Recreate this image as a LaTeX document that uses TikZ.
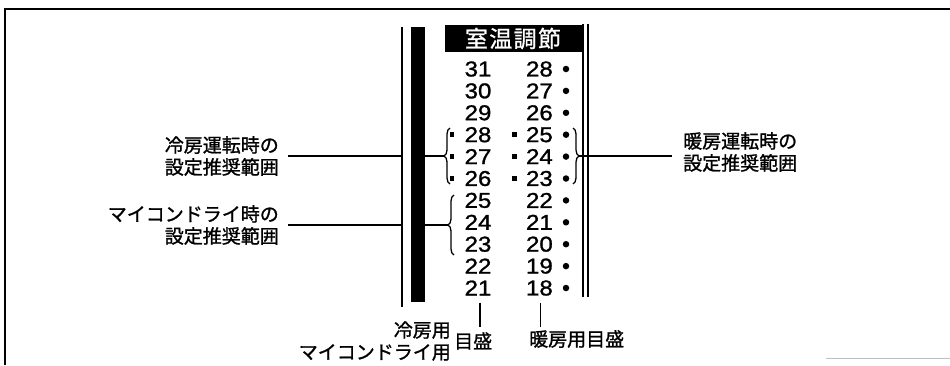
\documentclass[tikz,border=0pt]{standalone}
\usepackage{fontspec}
\setmainfont{Noto Sans CJK JP}
\newfontfamily\numfont[FakeStretch=1.12,FakeBold=1.2]{Liberation Sans}
\usetikzlibrary{positioning,decorations.pathreplacing}

\begin{document}
\begin{tikzpicture}[x=1pt,y=-1pt,
  lbl/.style={font=\fontsize{19}{22}\selectfont\addfontfeature{FakeBold=1.2}, inner sep=0pt},
  num/.style={font=\numfont\fontsize{21.5}{22}\selectfont, inner sep=0pt},
  bigdot/.style={circle, fill=black, inner sep=0pt, minimum size=6.5pt},
  smalldot/.style={rectangle, fill=black, inner sep=0pt, minimum size=4.5pt},
  lead/.style={line width=1.5pt},
  rng/.style={line width=1.3pt, decorate, decoration={brace, amplitude=6pt}}]
\useasboundingbox (0,0) rectangle (950,365);
% frame
\draw[line width=1.6pt] (5,365) -- (5,9) -- (950,9);
\draw[black!25, line width=1pt] (826,358) -- (950,358);

% scale plate
\coordinate (thinT) at (402,27);
\coordinate (thinB) at (402,307);
\draw[line width=1.6pt] (thinT) -- (thinB);
\node[fill=black, inner sep=0pt, minimum width=14pt, minimum height=275pt] (bar) at (418,164.5) {};
\node[fill=black, text=white, inner sep=0pt, minimum width=137pt, minimum height=27pt,
  font=\fontsize{23}{23}\selectfont\addfontfeature{LetterSpace=6,FakeBold=1}] (head) at (513,38.5) {室温調節};
\draw[line width=1.4pt] (583,24) -- (583,297);
\draw[line width=1.4pt] (588,24) -- (588,297);

% numbers
\foreach \c [count=\i from 0] in {31,30,...,21}
  \node[num] (c\c) at (478,{69+21.9*\i}) {\c};
\foreach \h [count=\i from 0] in {28,27,...,18} {
  \node[num, anchor=east] (h\h) at (553,{69+21.9*\i}) {\h};
  \node[bigdot] (d\h) at (566,{69+21.9*\i}) {};
}
\foreach \c/\h in {28/25,27/24,26/23} {
  \node[smalldot, left=10pt of c\c] (sc\c) {};
  \node[smalldot, left=9pt of h\h] (sh\h) {};
}

% braces
\draw[rng] (450,184) -- (450,128);
\draw[rng] (454,255) -- (454,195);
\draw[rng] (573,128) -- (573,184);
\coordinate (ctip) at (444,156);
\coordinate (dtip) at (448,225);
\coordinate (htip) at (579,156);

% labels
\node[lbl, align=right, anchor=east] (cool) at (279,156) {冷房運転時の\\設定推奨範囲};
\node[lbl, align=right, anchor=east] (dry) at (279,225) {マイコンドライ時の\\設定推奨範囲};
\node[lbl, align=left, anchor=west] (heat) at (683,152) {暖房運転時の\\設定推奨範囲};
\draw[lead] ([xshift=9pt]cool.east) -- (cool.east -| thinT);
\draw[lead] (bar.east |- ctip) -- (ctip);
\draw[lead] ([xshift=9pt]dry.east) -- (dry.east -| thinT);
\draw[lead] (bar.east |- dtip) -- (dtip);
\draw[lead] (htip) -- (htip -| 672,0);

% scale names
\node[lbl, align=right, anchor=east] (cscale) at (451,341) {冷房用\\マイコンドライ用};
\node[lbl, right=3pt of cscale] (cmori) {目盛};
\node[lbl, anchor=west] (hscale) at (529,339) {暖房用目盛};
\draw[lead] ([xshift=2pt,yshift=-7pt]c21.south) -- ++(0,24);
\draw[lead] ([xshift=1pt,yshift=-7pt]h18.south) -- ++(0,24);
\end{tikzpicture}
\end{document}
